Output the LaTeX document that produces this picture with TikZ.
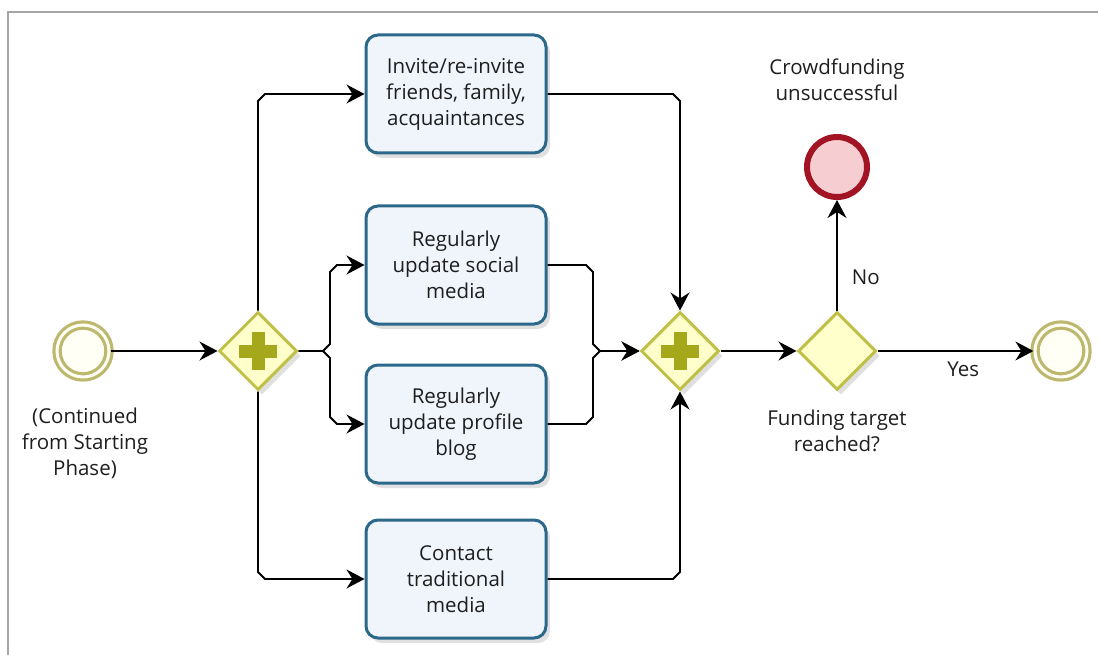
\documentclass[tikz,border=0pt]{standalone}
\usepackage{fontspec}
\setmainfont{Open Sans}
\usetikzlibrary{shapes.geometric,arrows.meta,calc,shadows}
\definecolor{taskborder}{RGB}{44,104,138}
\definecolor{taskfill}{RGB}{240,245,252}
\definecolor{gwborder}{RGB}{192,192,72}
\definecolor{gwfill}{RGB}{255,255,204}
\definecolor{gwplus}{RGB}{166,168,28}
\definecolor{evborder}{RGB}{190,184,110}
\definecolor{evfill}{RGB}{255,255,245}
\definecolor{endred}{RGB}{162,20,36}
\definecolor{endfill}{RGB}{246,206,210}
\definecolor{txt}{RGB}{30,30,30}
\definecolor{frame}{RGB}{165,165,165}
\begin{document}
\begin{tikzpicture}[x=1pt,y=-1pt,
  every node/.style={text=txt},
  lbl/.style={font=\fontsize{20.5}{26}\selectfont, align=center, inner sep=0pt},
  task/.style={rectangle, rounded corners=12pt, draw=taskborder, line width=3pt,
    fill=taskfill, minimum width=180pt, minimum height=118pt, inner sep=0pt,
    align=center, font=\fontsize{20.5}{26}\selectfont,
    drop shadow={shadow xshift=4pt, shadow yshift=-5pt, opacity=0.12, fill=black}},
  gateway/.style={diamond, aspect=1, draw=gwborder, line width=3pt, fill=gwfill,
    minimum size=78pt, inner sep=0pt,
    drop shadow={shadow xshift=4pt, shadow yshift=-5pt, opacity=0.12, fill=black}},
  plainevent/.style={circle, draw=evborder, line width=3.2pt, double=evfill,
    double distance=3pt, fill=evfill, minimum size=52pt, inner sep=0pt},
  failevent/.style={circle, draw=endred, line width=6pt, fill=endfill,
    minimum size=60pt, inner sep=0pt},
  flow/.style={draw=black, line width=1.8pt,
    -{Stealth[length=18pt, width=19pt, inset=6pt]}}
]
\useasboundingbox (0,0) rectangle (1098,655);
\draw[frame, line width=2pt] (8,655) -- (8,12) -- (1098,12);

% nodes
\node[plainevent] (start) at (83,351) {};
\node[gateway] (split) at (258,351) {};
\node[task] (t1) at (456,94) {Invite/re-invite\\friends, family,\\acquaintances};
\node[task] (t2) at (456,265) {Regularly\\update social\\media};
\node[task] (t3) at (456,424) {Regularly\\update profile\\blog};
\node[task] (t4) at (456,579) {Contact\\traditional\\media};
\node[gateway] (join) at (680,351) {};
\node[gateway] (decide) at (837,351) {};
\node[failevent] (fail) at (837,167) {};
\node[plainevent] (finish) at (1061,351) {};

% plus signs
\fill[gwplus] ($(split)+(-19,-6.5)$) rectangle ($(split)+(19,6.5)$);
\fill[gwplus] ($(split)+(-6.5,-19)$) rectangle ($(split)+(6.5,19)$);
\fill[gwplus] ($(join)+(-19,-6.5)$) rectangle ($(join)+(19,6.5)$);
\fill[gwplus] ($(join)+(-6.5,-19)$) rectangle ($(join)+(6.5,19)$);

% labels
\node[lbl] (startlbl) at (85,443) {(Continued\\from Starting\\Phase)};
\node[lbl] (faillbl) at (837,80) {Crowdfunding\\unsuccessful};
\node[lbl] (decidelbl) at (837,431) {Funding target\\reached?};

% coordinates for braces
\coordinate (bx) at (330,351);
\coordinate (jx) at (593,351);

% connectors
\draw[flow] (start.east) -- (split.west);
\draw[flow] (split.north) -- ($(split.north |- t1.west)+(0,7)$) -- ($(split.north |- t1.west)+(7,0)$) -- (t1.west);
\draw[flow] (split.south) -- ($(split.south |- t4.west)+(0,-7)$) -- ($(split.south |- t4.west)+(7,0)$) -- (t4.west);
\draw[flow] (split.east) -- ($(bx)+(-7,0)$) -- ($(bx)+(0,-7)$) -- ($(bx |- t2.west)+(0,7)$) -- ($(bx |- t2.west)+(7,0)$) -- (t2.west);
\draw[flow] (split.east) -- ($(bx)+(-7,0)$) -- ($(bx)+(0,7)$) -- ($(bx |- t3.west)+(0,-7)$) -- ($(bx |- t3.west)+(7,0)$) -- (t3.west);

\draw[flow] (t1.east) -- ($(t1.east -| join.north)+(-7,0)$) -- ($(t1.east -| join.north)+(0,7)$) -- (join.north);
\draw[flow] (t4.east) -- ($(t4.east -| join.south)+(-7,0)$) -- ($(t4.east -| join.south)+(0,-7)$) -- (join.south);
\draw[flow] (t2.east) -- ($(jx |- t2.east)+(-7,0)$) -- ($(jx |- t2.east)+(0,7)$) -- ($(jx)+(0,-7)$) -- ($(jx)+(7,0)$) -- (join.west);
\draw[flow] (t3.east) -- ($(jx |- t3.east)+(-7,0)$) -- ($(jx |- t3.east)+(0,-7)$) -- ($(jx)+(0,7)$) -- ($(jx)+(7,0)$) -- (join.west);

\draw[flow] (join.east) -- (decide.west);
\draw[flow] (decide.north) -- node[lbl, right=14pt, pos=0.3] {No} (fail.south);
\draw[flow] (decide.east) -- node[lbl, below=10pt, pos=0.55] {Yes} (finish.west);
\end{tikzpicture}
\end{document}
